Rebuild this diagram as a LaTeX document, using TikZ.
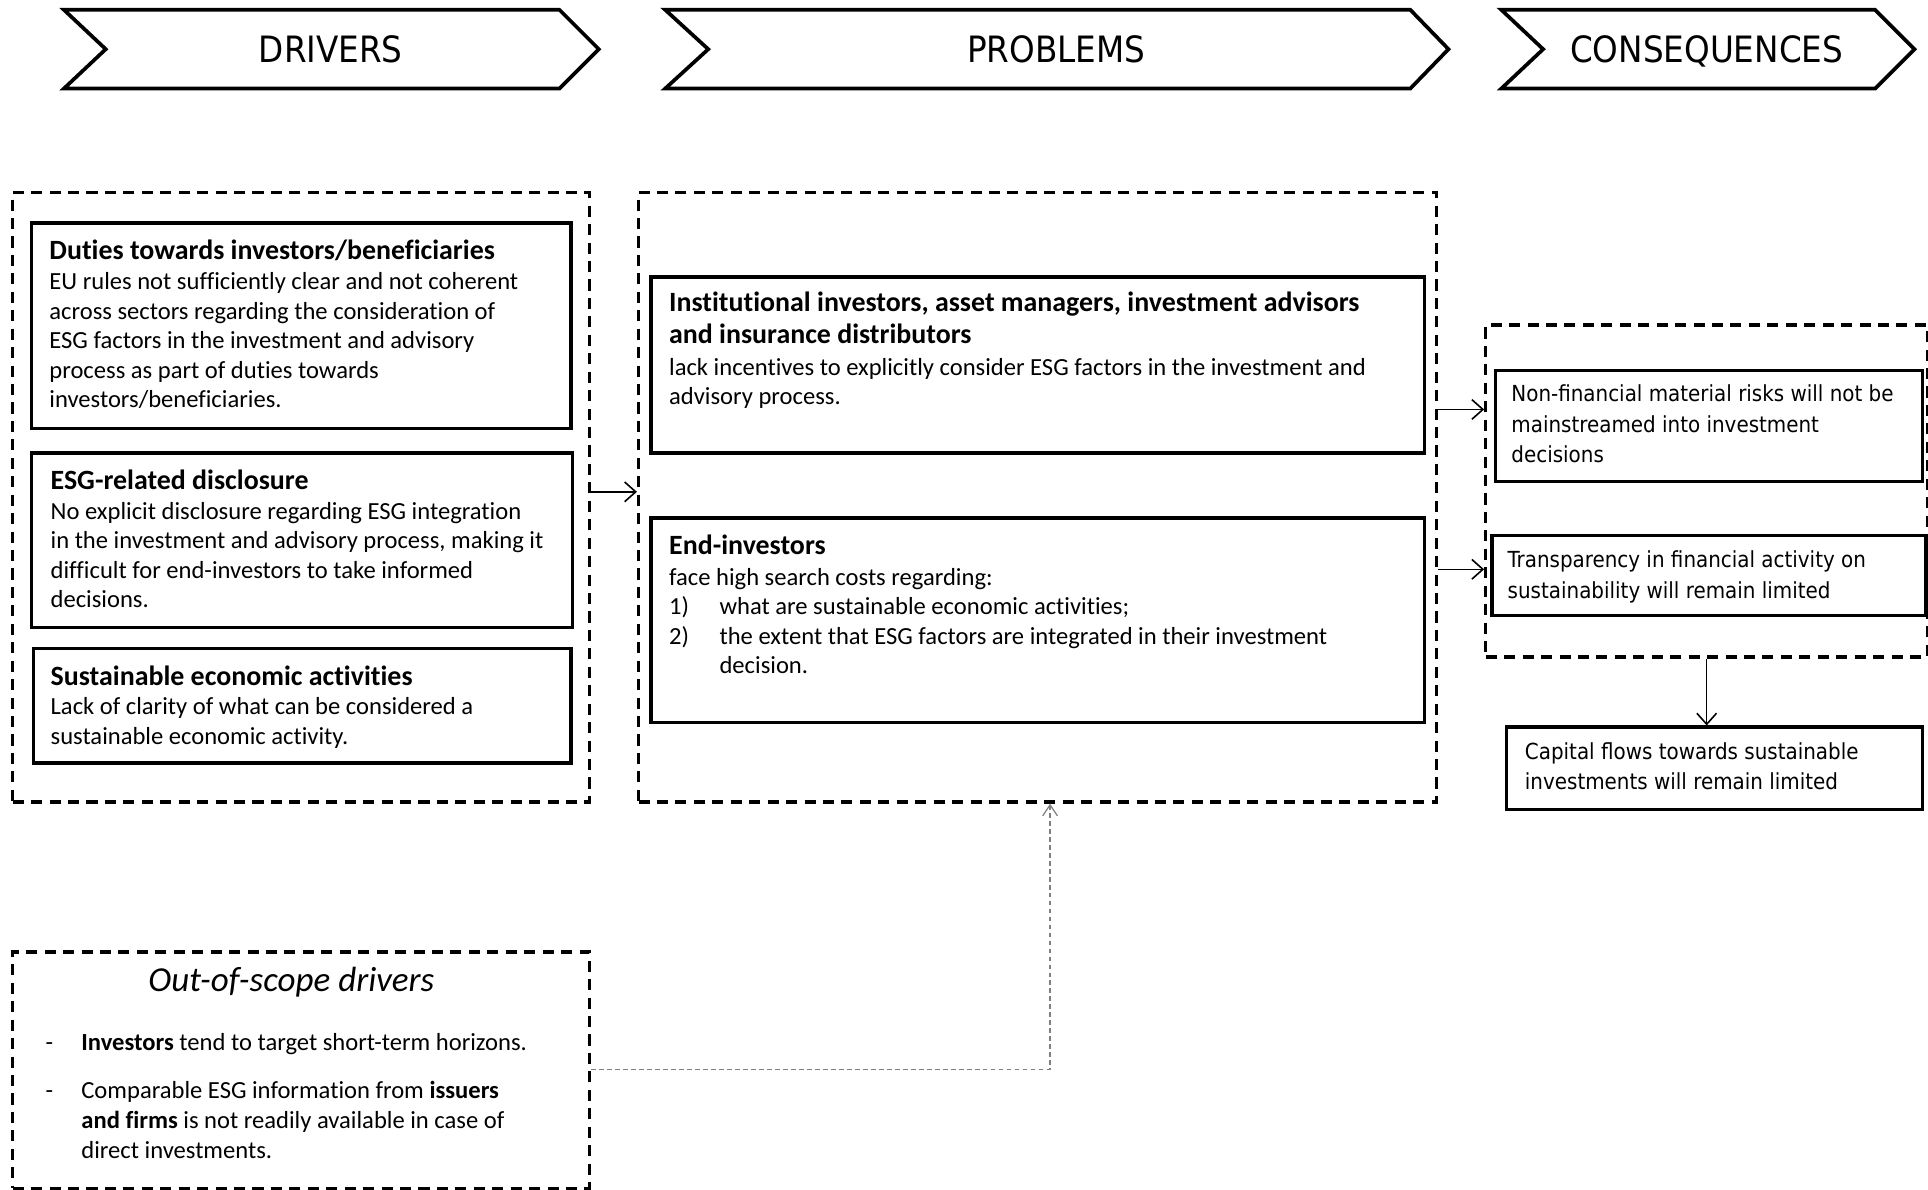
\documentclass[tikz,border=0pt]{standalone}
\usepackage{fontspec}
\setmainfont{Carlito}[Ligatures=NoCommon]
\newfontfamily\tah{DejaVu Sans Condensed}
\usetikzlibrary{arrows.meta}
\newcommand\bxtitle[1]{{\fontsize{22.7}{24}\selectfont\bfseries #1}}
\tikzset{
  chev/.style={line width=3pt, line join=miter},
  dbox/.style={draw, line width=2.6pt, dash pattern=on 9pt off 6pt, inner sep=0pt, anchor=north west},
  sbox/.style={draw, line width=2.8pt, inner sep=0pt, anchor=north west},
  txt/.style={anchor=north west, inner sep=0pt, align=left, font=\fontsize{20}{24}\selectfont, execute at begin node=\strut},
  ctxt/.style={anchor=north west, inner sep=0pt, align=left, font=\tah\fontsize{18}{24.5}\selectfont, execute at begin node=\strut},
  head/.style={anchor=base, inner sep=0pt, font=\tah\fontsize{29.5}{34}\selectfont},
  arr/.style={line width=1.3pt, -{Straight Barb[length=9pt,width=16pt]}},
  garr/.style={draw=gray, line width=1pt, dash pattern=on 4pt off 2.5pt, -{Straight Barb[length=9pt,width=12pt]}},
}
\begin{document}
\begin{tikzpicture}[x=1pt,y=-1pt]
\useasboundingbox (0,0) rectangle (1568,967);
% chevrons
\draw[chev] (52,8) -- (455,8) -- (487,40) -- (455,72) -- (52,72) -- (86,40) -- cycle;
\draw[chev] (541,8) -- (1147,8) -- (1178,40) -- (1147,72) -- (541,72) -- (576,40) -- cycle;
\draw[chev] (1221,8) -- (1525,8) -- (1557,40) -- (1525,72) -- (1221,72) -- (1255,40) -- cycle;
\node[head] (hd) at (269,51) {DRIVERS};
\node[head] (hp) at (859,51) {PROBLEMS};
\node[head] (hc) at (1388,51) {CONSEQUENCES};
% dashed group boxes
\node[dbox, minimum width=469pt, minimum height=496pt] (drv) at (9,155) {};
\node[dbox, minimum width=649pt, minimum height=496pt] (prb) at (518,155) {};
\node[dbox, minimum width=359pt, minimum height=270pt] (cns) at (1207,263) {};
\node[dbox, minimum width=469pt, minimum height=192pt] (oos) at (9,773) {};
% solid boxes
\node[sbox, minimum width=439pt, minimum height=167pt] (duty) at (24,180) {};
\node[sbox, minimum width=440pt, minimum height=142pt] (disc) at (24,367) {};
\node[sbox, minimum width=437pt, minimum height=93pt] (sust) at (26,526) {};
\node[sbox, minimum width=629pt, minimum height=143pt] (inst) at (528,224) {};
\node[sbox, minimum width=629pt, minimum height=166pt] (endi) at (528,420) {};
\node[sbox, minimum width=347pt, minimum height=90pt] (nonf) at (1215,300) {};
\node[sbox, minimum width=353pt, minimum height=65pt] (trans) at (1212,434) {};
\node[sbox, minimum width=338pt, minimum height=67pt] (capf) at (1224,590) {};
% texts
\node[txt] (tduty) at (40,195) {\bxtitle{Duties towards investors/beneficiaries}\\[0.5pt]
EU rules not sufficiently clear and not coherent\\
across sectors regarding the consideration of\\
ESG factors in the investment and advisory\\
process as part of duties towards\\
investors/beneficiaries.};
\node[txt] (tdisc) at (41,382) {\bxtitle{ESG-related disclosure}\\
No explicit disclosure regarding ESG integration\\
in the investment and advisory process, making it\\
difficult for end-investors to take informed\\
decisions.};
\node[txt] (tsust) at (41,541) {\bxtitle{Sustainable economic activities}\\
Lack of clarity of what can be considered a\\
sustainable economic activity.};
\node[txt] (tinst) at (544,237.5) {\bxtitle{Institutional investors, asset managers, investment advisors}\\[1.8pt]
\bxtitle{and insurance distributors}\\[1.8pt]
lack incentives to explicitly consider ESG factors in the investment and\\
advisory process.};
\node[txt] (tendi) at (544,434.5) {\bxtitle{End-investors}\\[1.2pt]
face high search costs regarding:\\
\makebox[41pt][l]{1)}what are sustainable economic activities;\\
\makebox[41pt][l]{2)}the extent that ESG factors are integrated in their investment\\
\makebox[41pt][l]{}decision.};
\node[ctxt] (tnonf) at (1229,313) {Non-financial material risks will not be\\
mainstreamed into investment\\
decisions};
\node[ctxt] (ttrans) at (1226,448) {Transparency in financial activity on\\
sustainability will remain limited};
\node[ctxt] (tcapf) at (1240,604) {Capital flows towards sustainable\\
investments will remain limited};
\node[anchor=base, inner sep=0pt, font=\itshape\fontsize{28.5}{32}\selectfont] (toos) at (237,806) {Out-of-scope drivers};
\node[txt] (tb1) at (37,837.5) {\makebox[29pt][l]{-}\textbf{Investors} tend to target short-term horizons.};
\node[txt] (tb2) at (37,879) {\makebox[29pt][l]{-}Comparable ESG information from \textbf{issuers}\\[0.6pt]
\makebox[29pt][l]{}\textbf{and firms} is not readily available in case of\\
\makebox[29pt][l]{}direct investments.};
% connectors
\draw[arr] (drv.east |- 0,400) -- (prb.west |- 0,400);
\draw[arr] (prb.east |- 0,333) -- (cns.west |- 0,333);
\draw[arr] (prb.east |- 0,463) -- (cns.west |- 0,463);
\draw[arr] (cns.south -| 1388,0) -- (capf.north -| 1388,0);
\draw[garr] (oos.east |- 0,870) -| (prb.south -| 854,0);
\end{tikzpicture}
\end{document}
